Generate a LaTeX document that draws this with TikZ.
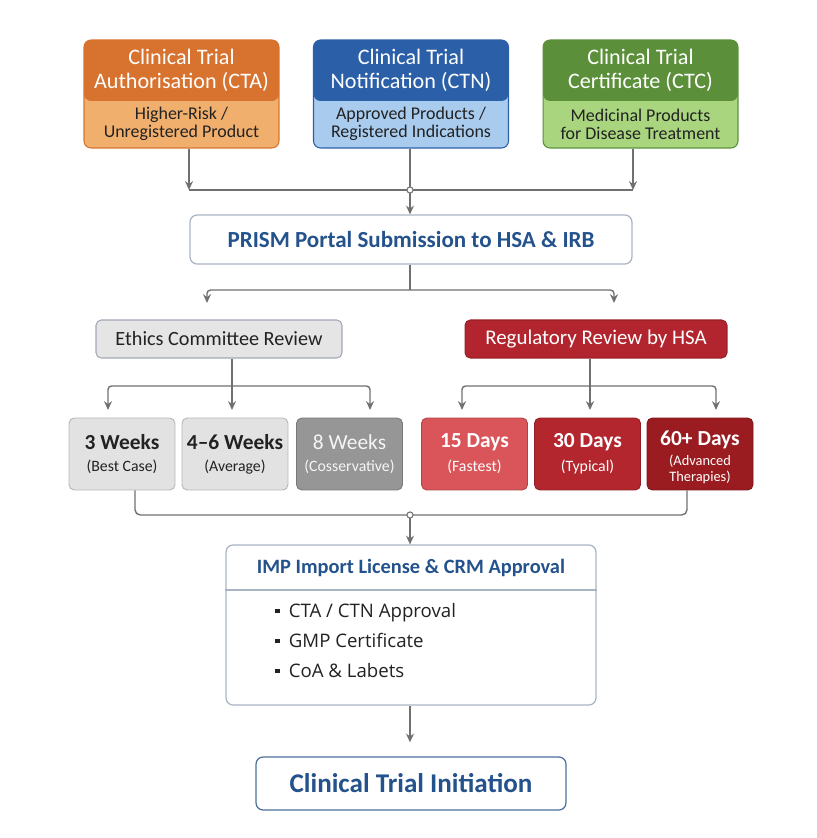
\documentclass[tikz,border=0pt]{standalone}
\usepackage{fontspec}
\setmainfont{Carlito}
\newfontfamily\bulletfont{Open Sans}
\usetikzlibrary{arrows.meta}

% colours
\definecolor{ctaDark}{HTML}{D8722F}
\definecolor{ctaLight}{HTML}{F1AF6D}
\definecolor{ctnDark}{HTML}{2B5FA8}
\definecolor{ctnLight}{HTML}{A8CBEE}
\definecolor{ctcDark}{HTML}{5B8F3A}
\definecolor{ctcLight}{HTML}{A9D57F}
\definecolor{titleBlue}{HTML}{24528C}
\definecolor{lineGray}{HTML}{707070}
\definecolor{boxBorder}{HTML}{A9B4C2}
\definecolor{ethicsFill}{HTML}{E5E5E5}
\definecolor{regRed}{HTML}{B3252E}
\definecolor{weekLight}{HTML}{E2E2E2}
\definecolor{weekDark}{HTML}{969696}
\definecolor{dayLight}{HTML}{D9555A}
\definecolor{dayMid}{HTML}{B4262E}
\definecolor{dayDark}{HTML}{9A1B20}
\definecolor{textDark}{HTML}{222222}

\tikzset{
  topcard/.style 2 args={draw=#1, fill=#2, line width=0.6pt, rounded corners=4pt,
    minimum width=3.9cm, minimum height=2.16cm, inner sep=0pt,
    path picture={\fill[#1] (path picture bounding box.north west) rectangle
      ([yshift=-1.22cm]path picture bounding box.north east);}},
  cardhead/.style={text=white, align=center, font=\fontsize{12.6}{13.8}\selectfont},
  cardsub/.style={text=textDark, align=center, font=\fontsize{10.2}{10.4}\selectfont},
  whitebox/.style={draw=boxBorder, fill=white, line width=0.7pt, rounded corners=4pt, inner sep=0pt},
  reviewbox/.style={rounded corners=3pt, line width=0.6pt, minimum width=#1, minimum height=0.76cm,
    inner sep=0pt},
  timebox/.style={draw=#1!80!black, fill=#1, rounded corners=3pt, line width=0.5pt,
    minimum width=2.12cm, minimum height=1.44cm, inner sep=0pt},
  timemain/.style={font=\bfseries\fontsize{12.2}{13}\selectfont},
  timesub/.style={align=center, font=\fontsize{9}{9.2}\selectfont},
  flow/.style={draw=lineGray, line width=0.8pt},
  flowArrow/.style={flow, -{Stealth[length=5pt,width=4.5pt]}},
  joint/.style={circle, draw=lineGray, fill=white, line width=0.6pt, inner sep=0pt, minimum size=3.5pt}
}

\begin{document}
\begin{tikzpicture}[x=0.02cm, y=-0.02cm]
  \useasboundingbox (0,0) rectangle (816,838);

  % three application routes
  \node[topcard={ctaDark}{ctaLight}] (cta) at (181.5,94) {};
  \node[topcard={ctnDark}{ctnLight}] (ctn) at (411,94) {};
  \node[topcard={ctcDark}{ctcLight}] (ctc) at (640.5,94) {};

  \node[cardhead] (ctahead) at (181.5,70.5) {Clinical Trial\\Authorisation (CTA)};
  \node[cardhead] (ctnhead) at (411,70.5) {Clinical Trial\\Notification (CTN)};
  \node[cardhead] (ctchead) at (640.5,70.5) {Clinical Trial\\Certificate (CTC)};

  \node[cardsub] (ctasub) at (181.5,124) {Higher-Risk /\\Unregistered Product};
  \node[cardsub] (ctnsub) at (411,124) {Approved Products /\\Registered Indications};
  \node[cardsub] (ctcsub) at (640.5,124) {Medicinal Products\\for Disease Treatment};

  % merge into the portal
  \coordinate (topjoin) at (410,190);
  \coordinate (ctaend) at (189,190);
  \coordinate (ctcend) at (633,190);
  \draw[flowArrow] (cta.south -| ctaend) -- (ctaend);
  \draw[flowArrow] (ctc.south -| ctcend) -- (ctcend);
  \draw[flow] (ctaend) -- (ctcend);
  \draw[flow] (ctn.south -| topjoin) -- (topjoin);

  \node[whitebox, minimum width=8.84cm, minimum height=0.98cm, text=titleBlue,
        font=\bfseries\fontsize{13.1}{14}\selectfont] (prism) at (411,239.5)
        {PRISM Portal Submission to HSA \& IRB};
  \draw[flowArrow] (topjoin) -- (prism.north -| topjoin);
  \node[joint] (topdot) at (topjoin) {};

  % split to the two reviews
  \coordinate (split) at (410,290);
  \coordinate (ethicsin) at (207,303);
  \coordinate (regin) at (614,303);
  \draw[flow] (prism.south -| split) -- (split);
  \draw[flowArrow, rounded corners=2pt] (split) -| (ethicsin);
  \draw[flowArrow, rounded corners=2pt] (split) -| (regin);

  \node[reviewbox=4.92cm, draw=boxBorder!80!gray, fill=ethicsFill, text=textDark,
        font=\fontsize{11.5}{12}\selectfont] (ethics) at (219,339) {Ethics Committee Review};
  \node[reviewbox=5.24cm, draw=regRed!85!black, fill=regRed, text=white,
        font=\fontsize{11.9}{12}\selectfont] (reg) at (596,339) {Regulatory Review by HSA};

  % review durations
  \node[timebox=weekLight] (wk3) at (122,454) {};
  \node[timebox=weekLight] (wk46) at (235,454) {};
  \node[timebox=weekDark] (wk8) at (349.5,454) {};
  \node[timebox=dayLight] (d15) at (474.5,454) {};
  \node[timebox=dayMid] (d30) at (587.5,454) {};
  \node[timebox=dayDark] (d60) at (700,454) {};

  \node[timemain, text=textDark] (wk3main) at (122,442) {3 Weeks};
  \node[timesub, text=textDark] (wk3sub) at (122,467) {(Best Case)};
  \node[timemain, text=textDark] (wk46main) at (235,442) {4–6 Weeks};
  \node[timesub, text=textDark] (wk46sub) at (235,467) {(Average)};
  \node[timemain, text=white!92!gray, font=\fontsize{12.2}{13}\selectfont] (wk8main) at (349.5,442) {8 Weeks};
  \node[timesub, text=white!92!gray] (wk8sub) at (349.5,467) {(Cosservative)};
  \node[timemain, text=white] (d15main) at (474.5,442) {15 Days};
  \node[timesub, text=white] (d15sub) at (474.5,467) {(Fastest)};
  \node[timemain, text=white] (d30main) at (587.5,442) {30 Days};
  \node[timesub, text=white] (d30sub) at (587.5,467) {(Typical)};
  \node[timemain, text=white] (d60main) at (700,440) {60+ Days};
  \node[timesub, text=white, font=\fontsize{8.2}{9}\selectfont] (d60sub) at (700,469) {(Advanced\\Therapies)};

  % ethics branches
  \coordinate (ethicsjoin) at (232,386);
  \draw[flow] (ethics.south -| ethicsjoin) -- (ethicsjoin);
  \draw[flowArrow, rounded corners=2pt] (ethicsjoin) -| (108,410);
  \draw[flowArrow, rounded corners=2pt] (ethicsjoin) -| (370,410);
  \draw[flowArrow] (ethicsjoin) -- (232,410);

  % regulatory branches
  \coordinate (regjoin) at (590,386);
  \draw[flow] (reg.south -| regjoin) -- (regjoin);
  \draw[flowArrow, rounded corners=2pt] (regjoin) -| (462,410);
  \draw[flowArrow, rounded corners=2pt] (regjoin) -| (716,410);
  \draw[flowArrow] (regjoin) -- (590,410);

  % merge to import licence
  \coordinate (lowjoin) at (410,515);
  \draw[flow, rounded corners=3pt] ([xshift=0.26cm]wk3.south) |- (lowjoin);
  \draw[flow, rounded corners=3pt] ([xshift=-0.26cm]d60.south) |- (lowjoin);

  \node[whitebox, minimum width=7.4cm, minimum height=3.2cm] (imp) at (411,625) {};
  \draw[draw=boxBorder, line width=0.6pt] (imp.west |- 0,590) -- (imp.east |- 0,590);
  \draw[flowArrow] (lowjoin) -- (imp.north -| lowjoin);
  \node[joint] (lowdot) at (lowjoin) {};

  \node[text=titleBlue, font=\bfseries\fontsize{11.6}{12}\selectfont] (imphead) at (411,568)
        {IMP Import License \& CRM Approval};
  \node[anchor=north west, align=left, text=textDark, inner sep=0pt,
        font=\bulletfont\fontsize{10.6}{17}\selectfont] (implist) at (275,603)
        {\rule[0.22em]{2.4pt}{2.4pt}\enspace CTA / CTN Approval\\
         \rule[0.22em]{2.4pt}{2.4pt}\enspace GMP Certificate\\
         \rule[0.22em]{2.4pt}{2.4pt}\enspace CoA \& Labets};

  % start of trial
  \node[whitebox, draw=titleBlue!70!boxBorder, minimum width=6.2cm, minimum height=1.06cm,
        text=titleBlue, font=\bfseries\fontsize{15.4}{16}\selectfont] (start) at (411,783.5)
        {Clinical Trial Initiation};
  \draw[flowArrow, shorten >=8pt] (imp.south -| lowjoin) -- (start.north -| lowjoin);
\end{tikzpicture}
\end{document}
